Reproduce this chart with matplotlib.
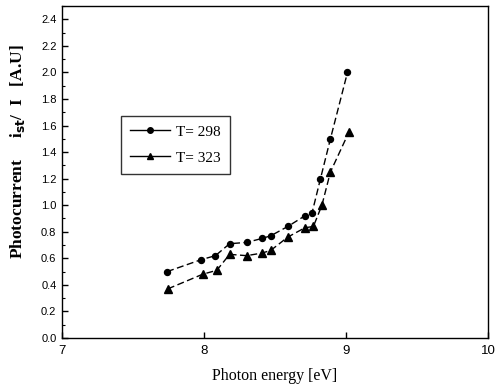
import numpy as np
import matplotlib
matplotlib.use("Agg")
import matplotlib.pyplot as plt
from matplotlib.lines import Line2D
from matplotlib.ticker import MultipleLocator

energy_298 = [7.74, 7.98, 8.08, 8.18, 8.30, 8.41, 8.47, 8.59, 8.71, 8.76, 8.82, 8.89, 9.01]
photo_298 = [0.50, 0.59, 0.62, 0.71, 0.72, 0.75, 0.77, 0.84, 0.92, 0.94, 1.20, 1.50, 2.00]

energy_323 = [7.745, 7.99, 8.09, 8.18, 8.30, 8.41, 8.47, 8.59, 8.71, 8.77, 8.83, 8.89, 9.02]
photo_323 = [0.37, 0.48, 0.51, 0.63, 0.62, 0.64, 0.66, 0.76, 0.83, 0.84, 1.00, 1.25, 1.55]

labels = ["T= 298", "T= 323"]
x_ticks = [7, 8, 9, 10]
y_ticks = np.arange(0, 2.41, 0.2)

serif = ["Liberation Serif", "DejaVu Serif"]

fig = plt.figure(figsize=(4.95, 3.87), dpi=100)
ax = fig.add_axes([0.1253, 0.1266, 0.8607, 0.8579])

ax.plot(energy_298, photo_298, color="black", linestyle=(0, (5, 2.5)), linewidth=1.0,
        marker="o", markersize=4.3)
ax.plot(energy_323, photo_323, color="black", linestyle=(0, (5, 2.5)), linewidth=1.0,
        marker="^", markersize=5.2)

ax.set_xlim(7, 10)
ax.set_ylim(0, 2.5)
ax.set_xticks(x_ticks)
ax.yaxis.set_minor_locator(MultipleLocator(0.1))
ax.set_yticks(y_ticks)
ax.set_yticklabels([f"{v:.1f}" for v in y_ticks])

ax.tick_params(axis="both", which="major", direction="in", length=4, width=1,
               top=False, right=False)
ax.tick_params(axis="x", labelsize=9.5, pad=5)
ax.tick_params(axis="y", labelsize=8, pad=4)
ax.tick_params(axis="y", which="minor", direction="in", length=2, width=0.8, right=False)
for lab in ax.get_xticklabels() + ax.get_yticklabels():
    lab.set_family("Liberation Sans")
for s in ax.spines.values():
    s.set_linewidth(1.0)

ax.set_xlabel("Photon energy [eV]", family=serif, fontsize=11.5, labelpad=8)
ax.set_ylabel(r"Photocurrent     i$_{\mathbf{st}}$/  I   [A.U]", family=serif,
              fontsize=12.5, fontweight="bold")
ax.yaxis.set_label_coords(-0.082, 0.56)

handles = [
    Line2D([], [], color="black", linewidth=1.0, marker="o", markersize=4),
    Line2D([], [], color="black", linewidth=1.0, marker="^", markersize=4.5),
]
leg = ax.legend(handles, labels, loc="upper left", bbox_to_anchor=(0.139, 0.669),
                prop={"family": serif, "size": 11}, frameon=True, fancybox=False,
                edgecolor="black", handlelength=2.6, handletextpad=0.4,
                borderpad=0.6, labelspacing=0.8, borderaxespad=0)
leg.get_frame().set_linewidth(1.0)

fig.savefig("out.png", dpi=100)
